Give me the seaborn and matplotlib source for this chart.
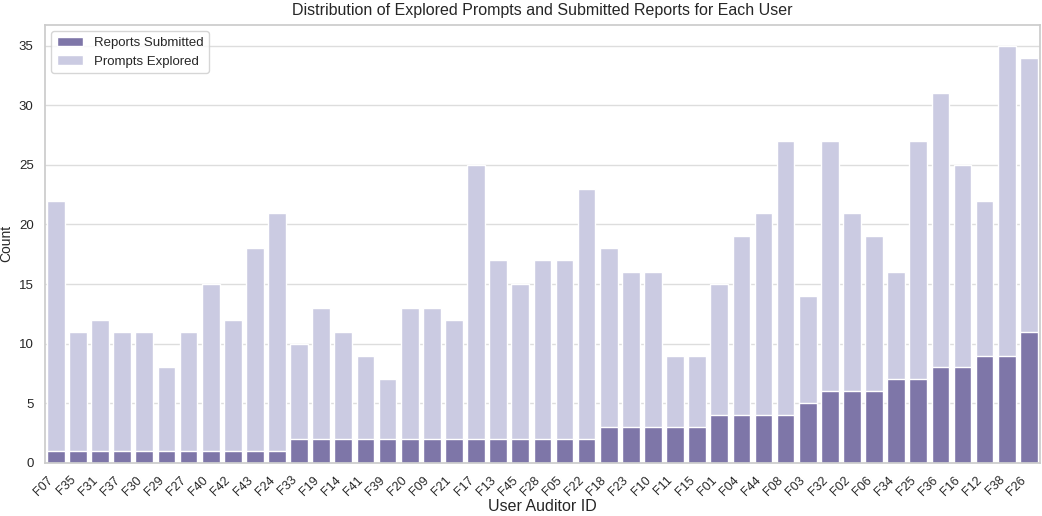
import matplotlib
matplotlib.use("Agg")
import matplotlib.pyplot as plt
import seaborn as sns
import pandas as pd

users = ["F07", "F35", "F31", "F37", "F30", "F29", "F27", "F40", "F42", "F43", "F24",
         "F33", "F19", "F14", "F41", "F39", "F20", "F09", "F21", "F17", "F13", "F45",
         "F28", "F05", "F22", "F18", "F23", "F10", "F11", "F15", "F01", "F04", "F44",
         "F08", "F03", "F32", "F02", "F06", "F34", "F25", "F36", "F16", "F12", "F38", "F26"]
prompts_explored = [22, 11, 12, 11, 11, 8, 11, 15, 12, 18, 21,
                    10, 13, 11, 9, 7, 13, 13, 12, 25, 17, 15,
                    17, 17, 23, 18, 16, 16, 9, 9, 15, 19, 21,
                    27, 14, 27, 21, 19, 16, 27, 31, 25, 22, 35, 34]
reports_submitted = [1, 1, 1, 1, 1, 1, 1, 1, 1, 1, 1,
                     2, 2, 2, 2, 2, 2, 2, 2, 2, 2, 2,
                     2, 2, 2, 3, 3, 3, 3, 3, 4, 4, 4,
                     4, 5, 6, 6, 6, 7, 7, 8, 8, 9, 9, 11]

df = pd.DataFrame({'user': users, 'prompts': prompts_explored, 'reports': reports_submitted})

sns.set_theme(style="whitegrid")
plt.rcParams['font.family'] = ['Liberation Sans', 'DejaVu Sans']

fig, ax = plt.subplots(figsize=(10.42, 5.16), dpi=100)

sns.barplot(data=df, x='user', y='prompts', color='#cbcbe2', saturation=1,
            edgecolor='white', linewidth=1, label='Prompts Explored', ax=ax)
sns.barplot(data=df, x='user', y='reports', color='#7e76a8', saturation=1,
            edgecolor='white', linewidth=1, label='Reports Submitted', ax=ax)

for s in ax.spines.values():
    s.set_color('#cccccc')
ax.xaxis.grid(False)
ax.yaxis.grid(True, color='#dddddd')

handles, labels = ax.get_legend_handles_labels()
ax.legend(handles[::-1], labels[::-1], loc='upper left', fontsize=9.5)

ax.set_title("Distribution of Explored Prompts and Submitted Reports for Each User", fontsize=11.5, pad=7)
ax.set_xlabel("User Auditor ID", fontsize=11.5, labelpad=1)
ax.set_ylabel("Count", fontsize=10)
ax.set_yticks([0, 5, 10, 15, 20, 25, 30, 35])
plt.xticks(rotation=45, ha='right', fontsize=9)
plt.yticks(fontsize=9.5)
ax.tick_params(axis='both', pad=2)

plt.subplots_adjust(left=0.043, right=0.998, top=0.952, bottom=0.103)
plt.savefig('out.png', dpi=100)
